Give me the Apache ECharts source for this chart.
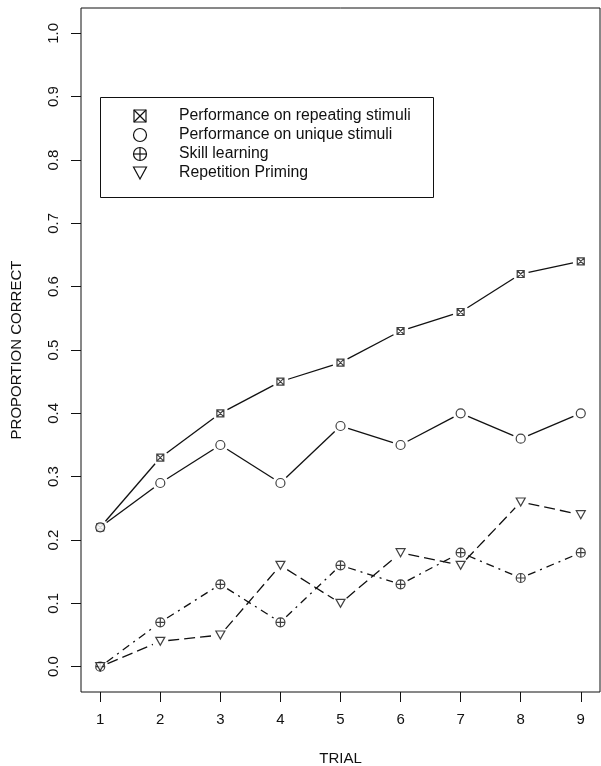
<!DOCTYPE html>
<html>
<head>
<meta charset="utf-8">
<script src="https://cdn.jsdelivr.net/npm/echarts@6/dist/echarts.min.js"></script>
<style>
html,body{margin:0;padding:0;background:#fff;}
#chart{width:601px;height:766px;}
</style>
</head>
<body>
<div id="chart"></div>
<script>
const trials = [1, 2, 3, 4, 5, 6, 7, 8, 9];
const yTicks = [0.0, 0.1, 0.2, 0.3, 0.4, 0.5, 0.6, 0.7, 0.8, 0.9, 1.0];
const seriesNames = [
  'Performance on repeating stimuli',
  'Performance on unique stimuli',
  'Skill learning',
  'Repetition Priming'
];
const repeating = [0.22, 0.33, 0.40, 0.45, 0.48, 0.53, 0.56, 0.62, 0.64];
const unique    = [0.22, 0.29, 0.35, 0.29, 0.38, 0.35, 0.40, 0.36, 0.40];
const skill     = [0.00, 0.07, 0.13, 0.07, 0.16, 0.13, 0.18, 0.14, 0.18];
const priming   = [0.00, 0.04, 0.05, 0.16, 0.10, 0.18, 0.16, 0.26, 0.24];

const FONT = 'Liberation Sans, Arial, Helvetica, sans-serif';
const INK = '#111';
const P_SQX = 'M0,0H10V10H0Z M0,0L10,10 M10,0L0,10';
const P_CIR = 'M0,5A5,5 0 1 1 10,5A5,5 0 1 1 0,5Z';
const P_CPL = 'M0,5A5,5 0 1 1 10,5A5,5 0 1 1 0,5Z M5,0V10 M0,5H10';
const P_TRI = 'M0,0H10L5,9Z';

const W = 601, H = 766;
const GRID = {left: 81, right: 1, top: 8, bottom: 74};
const XR = [0.68, 9.32], YR = [-0.04, 1.04];
const GAP = 8;

const specs = [
  {data: repeating, path: P_SQX, size: [7, 7], kind: 'sqx', dash: 'solid'},
  {data: unique, path: P_CIR, size: [9, 9], kind: 'cir', dash: 'solid'},
  {data: skill, path: P_CPL, size: [9, 9], kind: 'cpl', dash: [8, 5, 2, 5]},
  {data: priming, path: P_TRI, size: [9, 8], kind: 'tri', dash: [11, 5]}
];

const pairs = d => trials.map((t, i) => [t, d[i]]);
const lineStyleOf = s => ({color: INK, width: 1.3, type: s.dash});

// Line segments between consecutive points, shortened at both ends (like R's type = "b").
const pxPerX = (W - GRID.left - GRID.right) / (XR[1] - XR[0]);
const pxPerY = (H - GRID.top - GRID.bottom) / (YR[1] - YR[0]);
const lineSeries = [];
specs.forEach((s, k) => {
  for (let i = 0; i < trials.length - 1; i++) {
    const x0 = trials[i], y0 = s.data[i], x1 = trials[i + 1], y1 = s.data[i + 1];
    const d = Math.hypot((x1 - x0) * pxPerX, (y1 - y0) * pxPerY);
    if (d <= 2 * GAP + 1) continue;
    const f = GAP / d;
    lineSeries.push({
      name: seriesNames[k], type: 'line',
      data: [[x0 + (x1 - x0) * f, y0 + (y1 - y0) * f], [x1 - (x1 - x0) * f, y1 - (y1 - y0) * f]],
      showSymbol: false, lineStyle: lineStyleOf(s), z: 2, silent: true, animation: false
    });
  }
});
const ptSeries = specs.map((s, k) => ({
  name: seriesNames[k] + ' pts', type: 'scatter', data: pairs(s.data),
  symbol: 'path://' + s.path, symbolSize: s.size,
  itemStyle: {color: '#fff', borderColor: INK, borderWidth: 1.2},
  z: 6, silent: true, animation: false
}));

const st = {fill: '#fff', stroke: INK, lineWidth: 1.2};
const lst = {stroke: INK, lineWidth: 1.2};
function icon(kind, cx, cy) {
  const r = 6;
  if (kind === 'sqx') return [
    {type: 'rect', shape: {x: cx - r, y: cy - r, width: 2 * r, height: 2 * r}, style: st, z: 11},
    {type: 'line', shape: {x1: cx - r, y1: cy - r, x2: cx + r, y2: cy + r}, style: lst, z: 12},
    {type: 'line', shape: {x1: cx + r, y1: cy - r, x2: cx - r, y2: cy + r}, style: lst, z: 12}
  ];
  if (kind === 'cir') return [{type: 'circle', shape: {cx: cx, cy: cy, r: 6.5}, style: st, z: 11}];
  if (kind === 'cpl') return [
    {type: 'circle', shape: {cx: cx, cy: cy, r: 6.5}, style: st, z: 11},
    {type: 'line', shape: {x1: cx - 6.5, y1: cy, x2: cx + 6.5, y2: cy}, style: lst, z: 12},
    {type: 'line', shape: {x1: cx, y1: cy - 6.5, x2: cx, y2: cy + 6.5}, style: lst, z: 12}
  ];
  return [{type: 'polygon', shape: {points: [[cx - 6.5, cy - 6], [cx + 6.5, cy - 6], [cx, cy + 6]]}, style: st, z: 11}];
}

const legendEls = [{
  type: 'rect', shape: {x: 100.5, y: 97.5, width: 333, height: 100},
  style: {fill: '#fff', stroke: INK, lineWidth: 1}, z: 10
}];
specs.forEach((s, k) => {
  const cy = 116 + k * 19;
  icon(s.kind, 140, cy).forEach(e => legendEls.push(e));
  legendEls.push({
    type: 'text', x: 179, y: cy, z: 11,
    style: {text: seriesNames[k], font: '15.8px ' + FONT, fill: INK, verticalAlign: 'middle', align: 'left'}
  });
});

const chart = echarts.init(document.getElementById('chart'));
chart.setOption({
  animation: false,
  backgroundColor: '#fff',
  grid: {left: GRID.left, right: GRID.right, top: GRID.top, bottom: GRID.bottom, show: true,
    borderColor: INK, borderWidth: 1, backgroundColor: 'transparent', containLabel: false, outerBoundsMode: 'none'},
  xAxis: {
    type: 'value', min: XR[0], max: XR[1], position: 'bottom',
    axisLine: {show: false, onZero: false}, splitLine: {show: false},
    axisTick: {show: true, inside: false, customValues: trials, length: 10, lineStyle: {color: INK, width: 1}},
    axisLabel: {customValues: trials, color: INK, fontSize: 15, fontFamily: FONT, margin: 20},
    name: 'TRIAL', nameLocation: 'middle', nameGap: 59,
    nameTextStyle: {color: INK, fontSize: 15, fontFamily: FONT}
  },
  yAxis: {
    type: 'value', min: YR[0], max: YR[1], position: 'left',
    axisLine: {show: false, onZero: false}, splitLine: {show: false},
    axisTick: {show: true, inside: false, customValues: yTicks, length: 10, lineStyle: {color: INK, width: 1}},
    axisLabel: {customValues: yTicks, rotate: 90, color: INK, fontSize: 15, fontFamily: FONT, margin: 20,
      formatter: v => v.toFixed(1)},
    name: 'PROPORTION CORRECT', nameLocation: 'middle', nameRotate: 90, nameGap: 57,
    nameTextStyle: {color: INK, fontSize: 15, fontFamily: FONT}
  },
  graphic: legendEls,
  series: lineSeries.concat(ptSeries)
});
</script>
</body>
</html>
